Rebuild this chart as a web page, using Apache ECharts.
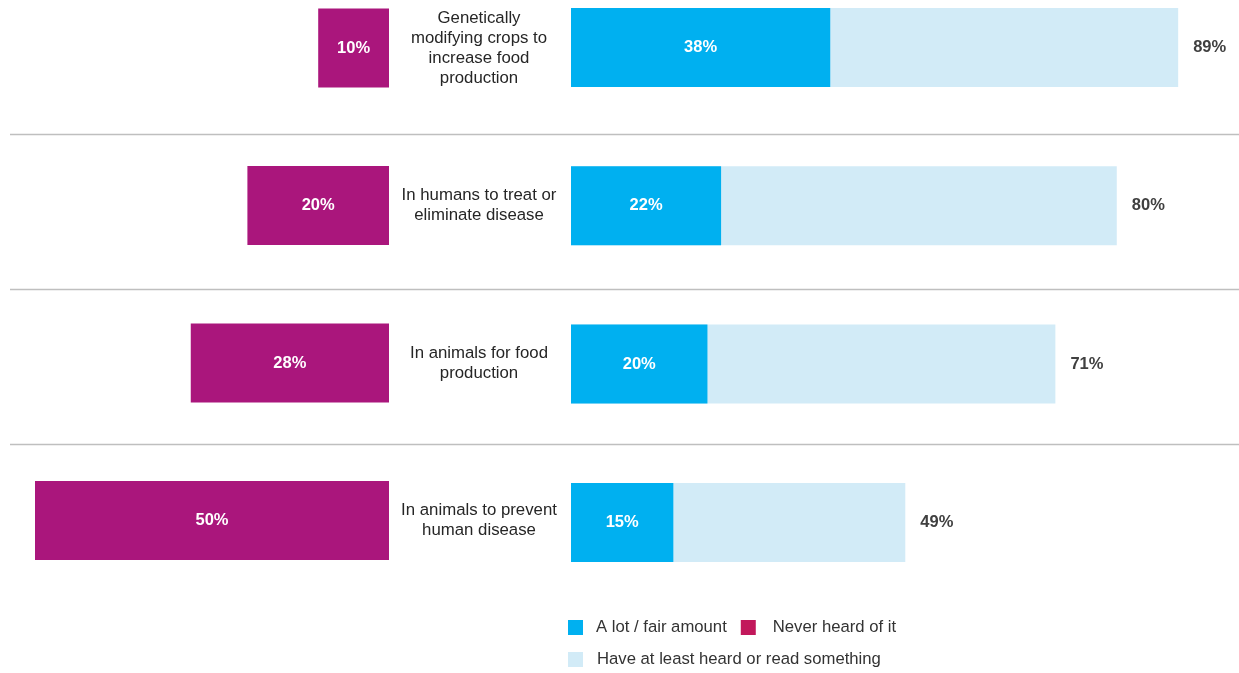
<!DOCTYPE html>
<html>
<head>
<meta charset="utf-8">
<script src="https://cdn.jsdelivr.net/npm/echarts@6/dist/echarts.min.js"></script>
<style>
  html, body { margin: 0; padding: 0; background: #fff; }
  #main { width: 1239px; height: 673px; }
</style>
</head>
<body>
<div id="main"></div>
<script>
// data
var categories = [
  'Genetically\nmodifying crops to\nincrease food\nproduction',
  'In humans to treat or\neliminate disease',
  'In animals for food\nproduction',
  'In animals to prevent\nhuman disease'
];
var neverHeard = [10, 20, 28, 50];
var lotFair = [38, 22, 20, 15];
var atLeastHeard = [89, 80, 71, 49];

var FONT = "'Liberation Sans', Arial, sans-serif";
var myChart = echarts.init(document.querySelector('#main'));

var option = {
  animation: false,
  textStyle: { fontFamily: FONT },
  grid: [
    { left: 35, right: 850, top: -30.75, height: 630, outerBoundsMode: 'none' },   // left magenta bars
    { left: 571, right: 54, top: -31.7, height: 633.3, outerBoundsMode: 'none' }, // right blue bars
    { left: 10, right: 0, top: -21, height: 620, outerBoundsMode: 'none' }        // separator lines
  ],
  legend: [
    {
      left: 568, top: 619, padding: 0,
      itemWidth: 15, itemHeight: 15, itemGap: 14,
      icon: 'rect',
      textStyle: { fontSize: 16.7, color: '#333', fontFamily: FONT },
      data: [
        { name: 'A lot / fair amount', textStyle: { padding: [0, 0, 0, 8] } },
        { name: 'Never heard of it', itemStyle: { color: '#C2185B' }, textStyle: { padding: [0, 0, 0, 12] } }
      ]
    },
    {
      left: 568, top: 651, padding: 0,
      itemWidth: 15, itemHeight: 15,
      icon: 'rect',
      textStyle: { fontSize: 16.7, color: '#333', fontFamily: FONT, padding: [0, 0, 0, 9] },
      data: ['Have at least heard or read something']
    }
  ],
  xAxis: [
    { gridIndex: 0, type: 'value', min: 0, max: 50, inverse: true, show: false },
    { gridIndex: 1, type: 'value', min: 0, max: 90, show: false },
    { gridIndex: 2, type: 'value', min: 0, max: 1, show: false }
  ],
  yAxis: [
    {
      gridIndex: 0, type: 'category', inverse: true, position: 'right',
      data: categories,
      axisLine: { show: false },
      axisTick: { show: false },
      axisLabel: {
        align: 'center', margin: 90,
        fontSize: 16.8, lineHeight: 20, color: '#262626', fontFamily: FONT
      }
    },
    {
      gridIndex: 1, type: 'category', inverse: true,
      data: categories,
      axisLine: { show: false },
      axisTick: { show: false },
      axisLabel: { show: false }
    },
    {
      gridIndex: 2, type: 'category', inverse: true,
      data: categories,
      axisLine: { show: false },
      axisTick: { show: false },
      axisLabel: { show: false },
      splitLine: {
        show: true, showMinLine: false, showMaxLine: false,
        lineStyle: { color: '#bfbfbf', width: 1.3 }
      }
    }
  ],
  series: [
    {
      name: 'Never heard of it',
      type: 'bar',
      xAxisIndex: 0, yAxisIndex: 0,
      barWidth: 79,
      data: neverHeard,
      itemStyle: { color: '#AA167C' },
      label: {
        show: true, position: 'inside', formatter: '{c}%',
        color: '#fff', fontWeight: 'bold', fontSize: 16.5, fontFamily: FONT
      }
    },
    {
      name: 'Have at least heard or read something',
      type: 'bar',
      xAxisIndex: 1, yAxisIndex: 1,
      barWidth: 79, barGap: '-100%',
      data: atLeastHeard,
      itemStyle: { color: '#D2EBF7' },
      label: {
        show: true, position: 'right', distance: 15, formatter: '{c}%',
        color: '#404040', fontWeight: 'bold', fontSize: 16.5, fontFamily: FONT
      }
    },
    {
      name: 'A lot / fair amount',
      type: 'bar',
      xAxisIndex: 1, yAxisIndex: 1,
      barWidth: 79, barGap: '-100%',
      data: lotFair,
      itemStyle: { color: '#00B0F0' },
      label: {
        show: true, position: 'inside', formatter: '{c}%',
        color: '#fff', fontWeight: 'bold', fontSize: 16.5, fontFamily: FONT
      }
    }
  ]
};
myChart.setOption(option);
window.addEventListener('resize', function () {
  myChart.resize();
});
</script>
</body>
</html>
